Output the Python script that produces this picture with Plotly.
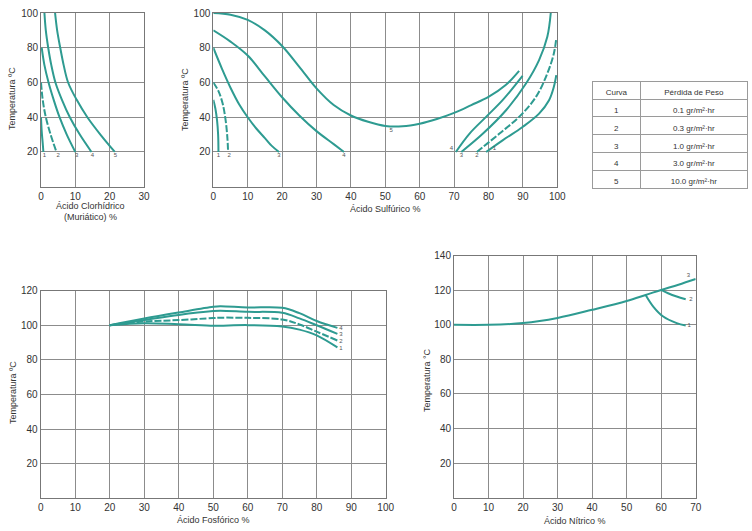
import plotly.graph_objects as go

W, H = 752, 531

# ---------------- DATA ----------------
# Ácido Clorhídrico (HCl)
hcl_c1_x = [0.0, 0.2, 0.5, 0.7]
hcl_c1_y = [40, 32, 25, 20]
hcl_c2_x = [0.0, 0.5, 1.4, 2.8, 4.5]
hcl_c2_y = [60, 50, 40, 30, 20]
hcl_c3_x = [0.2, 1.0, 2.2, 3.7, 5.4, 7.5, 10.0]
hcl_c3_y = [80, 70, 60, 50, 40, 30, 20]
hcl_c4_x = [1.0, 1.4, 2.1, 3.0, 4.2, 6.1, 8.4, 11.3, 14.7]
hcl_c4_y = [100, 90, 80, 70, 60, 50, 40, 30, 20]
hcl_c5_x = [4.1, 4.7, 5.6, 6.6, 7.9, 10.4, 13.5, 17.3, 21.5]
hcl_c5_y = [100, 90, 80, 70, 60, 50, 40, 30, 20]
hcl_lbl_x = [1.0, 5.0, 10.4, 15.0, 21.7]
hcl_lbl_y = [18, 18, 18, 18, 18]
hcl_lbl_t = ["1", "2", "3", "4", "5"]

# Ácido Sulfúrico (H2SO4) - dilute side
s_c1_x = [0.0, 0.6, 1.1, 1.4, 1.5]
s_c1_y = [50, 45, 38, 30, 20]
s_c2_x = [0.0, 1.5, 2.7, 3.6, 4.1, 4.3]
s_c2_y = [60, 55, 48, 38, 28, 20]
s_c3_x = [0.0, 2.5, 5.0, 7.5, 10.0, 12.5, 15.0, 17.0, 19.1]
s_c3_y = [80, 68, 57, 47.5, 40, 33.5, 28, 23.5, 20]
s_c4_x = [0.0, 5, 10, 15, 20, 25, 30, 35, 38]
s_c4_y = [90, 83.5, 75.5, 63.5, 51.5, 41, 32, 24.5, 20]
s_c5_x = [0, 5, 10, 15, 20, 25, 30, 35, 40, 45, 50, 55, 60, 65, 70, 75, 80, 85, 88.9]
s_c5_y = [100, 99, 96, 90, 81, 69, 56.6, 47, 41, 37.4, 35, 34.8, 36.3, 39, 42.5, 47, 51.7, 58.5, 66.7]
# concentrated side
s_r4_x = [70.5, 74.5, 79.3, 84.1, 89.9]
s_r4_y = [20, 30.6, 40.2, 49.8, 63.8]
s_r3_x = [72.1, 78.4, 85.1, 90.9, 94.7, 97.1, 98.1]
s_r3_y = [20, 30.6, 44, 59.4, 72.9, 86.3, 100]
s_r2_x = [76.6, 83.2, 88.9, 93.8, 97.1, 99.0, 99.7]
s_r2_y = [20, 30.6, 40.2, 51.7, 65.2, 76.7, 85.4]
s_r1_x = [79.3, 84.1, 89.9, 94.7, 97.6, 99.0, 99.7]
s_r1_y = [20, 26.7, 34.4, 42.1, 49.8, 57.5, 64.2]
s_lbl_x = [1.5, 4.6, 19.1, 38.0, 51.7, 69.2, 72.1, 76.6, 81.7]
s_lbl_y = [18, 18, 18, 18, 32.6, 22, 17.8, 17.8, 22]
s_lbl_t = ["1", "2", "3", "4", "5", "4", "3", "2", "1"]

# Ácido Fosfórico
p_x = [20, 30, 40, 50, 52, 60, 70, 75, 80, 86]
p_c4_y = [100, 103.9, 107.4, 110.7, 111.0, 110.3, 110.1, 107.0, 102.5, 98.5]
p_c3_y = [100, 103.0, 106.0, 108.2, 108.4, 107.8, 107.2, 104.0, 100.0, 95.0]
p_c2_y = [100, 102.2, 103.0, 104.2, 104.4, 104.3, 103.4, 100.5, 96.3, 91.2]
p_c1_y = [100, 101.2, 100.6, 99.8, 99.8, 100.1, 99.3, 97.5, 94.2, 87.2]
p_lbl_x = [87, 87, 87, 87]
p_lbl_y = [98.3, 94.4, 90.6, 86.7]
p_lbl_t = ["4", "3", "2", "1"]

# Ácido Nítrico
n_c3_x = [0, 10, 20, 30, 40, 50, 55.5, 60, 65, 70]
n_c3_y = [100, 100, 101, 104, 108.7, 113.8, 117.3, 120.2, 123.2, 126.5]
n_c2_x = [60, 62, 64.5, 67.1]
n_c2_y = [120.2, 118.3, 116.4, 114.8]
n_c1_x = [55.5, 57.7, 60.6, 64.5, 67.1]
n_c1_y = [117.3, 110.6, 104.8, 101.0, 99.6]
n_lbl_x = [67.9, 68.6, 68.1]
n_lbl_y = [128.5, 114.8, 99.4]
n_lbl_t = ["3", "2", "1"]

# Tabla
tabla_curva = ["1", "2", "3", "4", "5"]
tabla_perdida = ["0.1 gr/m²·hr", "0.3 gr/m²·hr", "1.0 gr/m²·hr", "3.0 gr/m²·hr", "10.0 gr/m²·hr"]
tabla_header = ["Curva", "Pérdida de Peso"]

# tick values
hcl_xt = [0, 10, 20, 30]
s_xt = list(range(0, 101, 10))
p_xt = list(range(0, 101, 10))
n_xt = list(range(0, 71, 10))
yt_100 = [20, 40, 60, 80, 100]
yt_120 = [20, 40, 60, 80, 100, 120]
yt_140 = [20, 40, 60, 80, 100, 120, 140]

# ---------------- STYLE ----------------
TEAL = "#2e9b91"
LW = 2
DASH = "7px,2px"
FONT = "Liberation Sans, Arial, sans-serif"
TXT = "#333333"
GRID = "#8c8c8c"

def fx(px):
    return px / W

def fy(py):
    return 1 - py / H

fig = go.Figure()

def curve(x, y, xa, ya, dash=None):
    fig.add_trace(go.Scatter(
        x=x, y=y, mode="lines", xaxis=xa, yaxis=ya,
        line=dict(color=TEAL, width=LW, shape="spline", smoothing=1.0, dash=dash or "solid"),
        hoverinfo="skip", showlegend=False))

def labels(x, y, t, xa, ya):
    fig.add_trace(go.Scatter(
        x=x, y=y, mode="text", text=t, xaxis=xa, yaxis=ya,
        textfont=dict(size=6, color="#555", family=FONT),
        hoverinfo="skip", showlegend=False))

# HCl
curve(hcl_c1_x, hcl_c1_y, "x", "y")
curve(hcl_c2_x, hcl_c2_y, "x", "y", DASH)
curve(hcl_c3_x, hcl_c3_y, "x", "y")
curve(hcl_c4_x, hcl_c4_y, "x", "y")
curve(hcl_c5_x, hcl_c5_y, "x", "y")
labels(hcl_lbl_x, hcl_lbl_y, hcl_lbl_t, "x", "y")

# H2SO4
curve(s_c1_x, s_c1_y, "x2", "y2")
curve(s_c2_x, s_c2_y, "x2", "y2", DASH)
curve(s_c3_x, s_c3_y, "x2", "y2")
curve(s_c4_x, s_c4_y, "x2", "y2")
curve(s_c5_x, s_c5_y, "x2", "y2")
curve(s_r4_x, s_r4_y, "x2", "y2")
curve(s_r3_x, s_r3_y, "x2", "y2")
curve(s_r2_x, s_r2_y, "x2", "y2", DASH)
curve(s_r1_x, s_r1_y, "x2", "y2")
labels(s_lbl_x, s_lbl_y, s_lbl_t, "x2", "y2")

# Fosfórico
curve(p_x, p_c4_y, "x3", "y3")
curve(p_x, p_c3_y, "x3", "y3")
curve(p_x, p_c2_y, "x3", "y3", DASH)
curve(p_x, p_c1_y, "x3", "y3")
labels(p_lbl_x, p_lbl_y, p_lbl_t, "x3", "y3")

# Nítrico
curve(n_c3_x, n_c3_y, "x4", "y4")
curve(n_c2_x, n_c2_y, "x4", "y4")
curve(n_c1_x, n_c1_y, "x4", "y4")
labels(n_lbl_x, n_lbl_y, n_lbl_t, "x4", "y4")

# Tabla
fig.add_trace(go.Table(
    domain=dict(x=[fx(592), fx(748)], y=[fy(190), fy(81)]),
    columnwidth=[49, 107],
    header=dict(values=tabla_header, height=18, align="center",
                fill_color="white", line=dict(color="#9a9a9a", width=1),
                font=dict(size=8, color=TXT, family=FONT)),
    cells=dict(values=[tabla_curva, tabla_perdida], height=17.8, align="center",
               fill_color="white", line=dict(color="#9a9a9a", width=1),
               font=dict(size=8, color=TXT, family=FONT)),
))

def xax(dom, rng, tv, anchor):
    return dict(domain=dom, range=rng, tickvals=tv, showgrid=True, gridcolor=GRID,
                gridwidth=1, zeroline=False, showline=True, linecolor="#777", linewidth=1,
                mirror=True, ticks="", tickfont=dict(size=10, color=TXT, family=FONT),
                anchor=anchor, automargin=False, fixedrange=True)

def yax(dom, rng, tv, anchor):
    return dict(domain=dom, range=rng, tickvals=tv, showgrid=True, gridcolor=GRID,
                gridwidth=1, zeroline=False, showline=True, linecolor="#777", linewidth=1,
                mirror=True, ticks="", tickfont=dict(size=10, color=TXT, family=FONT),
                anchor=anchor, automargin=False, fixedrange=True)

fig.update_layout(
    width=W, height=H, margin=dict(l=0, r=0, t=0, b=0, autoexpand=False),
    paper_bgcolor="white", plot_bgcolor="white", showlegend=False,
    xaxis=xax([fx(41), fx(144)], [0, 30], hcl_xt, "y"),
    yaxis=yax([fy(186.7), fy(13)], [0, 100], yt_100, "x"),
    xaxis2=xax([fx(213.3), fx(557.3)], [0, 100], s_xt, "y2"),
    yaxis2=yax([fy(186.7), fy(13)], [0, 100], yt_100, "x2"),
    xaxis3=xax([fx(40.7), fx(385.7)], [0, 100], p_xt, "y3"),
    yaxis3=yax([fy(498.3), fy(290.7)], [0, 120], yt_120, "x3"),
    xaxis4=xax([fx(454), fx(695.7)], [0, 70], n_xt, "y4"),
    yaxis4=yax([fy(497.7), fy(255.7)], [0, 140], yt_140, "x4"),
)

def title(text, px, py, angle=0):
    fig.add_annotation(text=text, x=fx(px), y=fy(py), xref="paper", yref="paper",
                       showarrow=False, textangle=angle,
                       font=dict(size=9, color=TXT, family=FONT),
                       xanchor="center", yanchor="middle")

title("Temperatura ºC", 12, 99, -90)
title("Temperatura ºC", 185, 100, -90)
title("Temperatura ºC", 13, 393, -90)
title("Temperatura °C", 427, 380, -90)
title("Ácido Clorhídrico", 90, 206)
title("(Muriático) %", 90, 217)
title("Ácido Sulfúrico %", 385, 209)
title("Ácido Fosfórico %", 213, 520)
title("Ácido Nítrico %", 575, 521)

fig.write_html(
    "out.html",
    config={"displayModeBar": False, "staticPlot": True},
    post_script="document.body.style.margin='0';document.body.style.overflow='hidden';",
)
